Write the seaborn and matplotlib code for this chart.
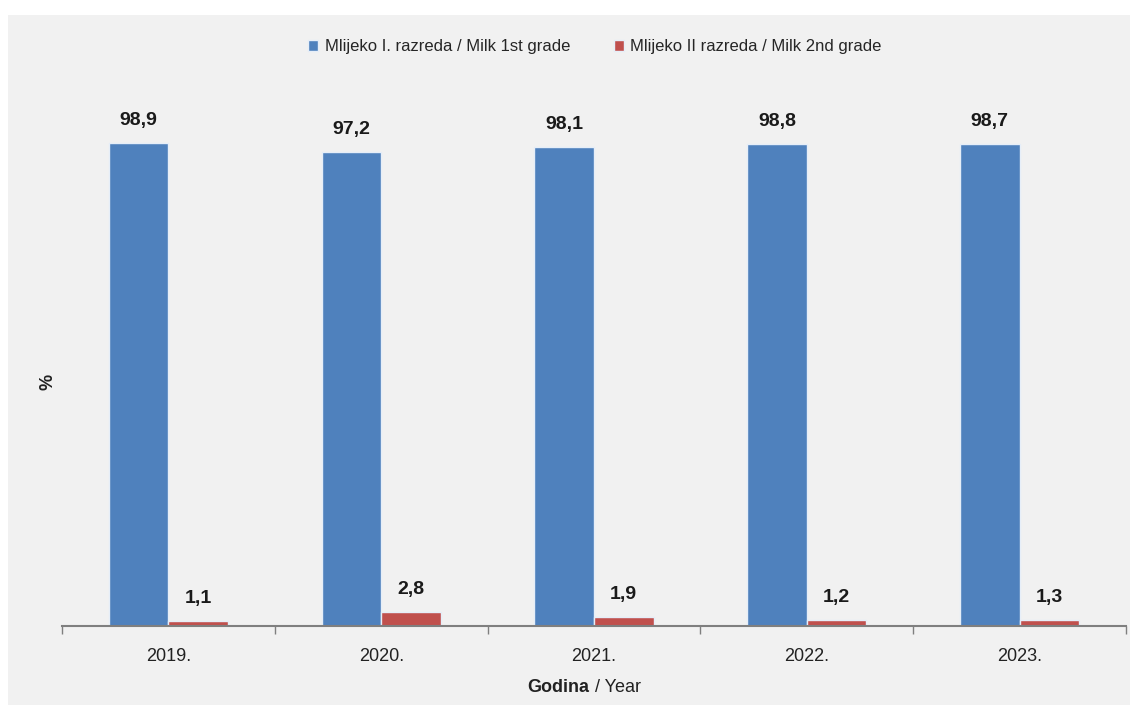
import pandas as pd
import seaborn as sns
import matplotlib.pyplot as plt
from matplotlib.patches import Rectangle

years = ['2019.', '2020.', '2021.', '2022.', '2023.']
grade1 = [98.9, 97.2, 98.1, 98.8, 98.7]
grade2 = [1.1, 2.8, 1.9, 1.2, 1.3]
series = ['Mlijeko I. razreda / Milk 1st grade', 'Mlijeko II razreda / Milk 2nd grade']
labels1 = ['98,9', '97,2', '98,1', '98,8', '98,7']
labels2 = ['1,1', '2,8', '1,9', '1,2', '1,3']

df = pd.DataFrame({
    'Godina': years * 2,
    'value': grade1 + grade2,
    'serija': [series[0]] * 5 + [series[1]] * 5,
})

sns.set_theme(style='white')
plt.rcParams['font.family'] = ['Liberation Sans Narrow', 'Liberation Sans', 'DejaVu Sans']

W, H = 1135, 716
fig = plt.figure(figsize=(W / 100, H / 100), dpi=100)
fig.patch.set_facecolor('white')
# svijetlo siva pozadina kao u izvorniku
fig.patches.append(Rectangle((8 / W, 1 - 705 / H), 1122 / W, 690 / H,
                             transform=fig.transFigure, facecolor='#f1f1f1',
                             edgecolor='none', zorder=-5))

ax = fig.add_axes([62 / W, 1 - 626 / H, (1126 - 62) / W, 488 / H])
ax.set_facecolor('none')
ax.set_zorder(3)

sns.barplot(data=df, x='Godina', y='value', hue='serija',
            palette=['#4f81bd', '#c0504d'], width=0.56,
            edgecolor='#e6eef8', linewidth=1.0, saturation=1, ax=ax)

ax.set_ylim(0, 100)
ax.set_xlim(-0.5, 4.5)
for s in ['top', 'right', 'left']:
    ax.spines[s].set_visible(False)
ax.spines['bottom'].set_color('#7f7f7f')
ax.spines['bottom'].set_linewidth(1.5)
ax.set_yticks([])
ax.set_xticks([i - 0.5 for i in range(6)], minor=True)
ax.tick_params(axis='x', which='minor', bottom=True, length=6, width=1, color='#7f7f7f', direction='out')
ax.tick_params(axis='x', which='major', bottom=False, labelsize=13, labelcolor='#222222', pad=10)

for cont, labs in zip(ax.containers, [labels1, labels2]):
    ax.bar_label(cont, labels=labs, padding=10, fontsize=14, fontweight='bold', color='#1a1a1a')

ax.set_xlabel('')
ax.set_ylabel('%', fontsize=13, fontweight='bold', color='#222222')
ax.yaxis.set_label_coords(-0.005, 0.5)

fig.text(589 / W, 1 - 688 / H, 'Godina', ha='right', va='center', fontsize=13, fontweight='bold', color='#222222')
fig.text(590 / W, 1 - 688 / H, ' / Year', ha='left', va='center', fontsize=13, color='#222222')

ax.legend(loc='center', bbox_to_anchor=(595 / W, 1 - 47 / H), bbox_transform=fig.transFigure,
          ncol=2, frameon=False, fontsize=12, handlelength=0.6, handleheight=0.6,
          handletextpad=0.4, columnspacing=2.6, title=None)

fig.savefig('out.png', dpi=100)
